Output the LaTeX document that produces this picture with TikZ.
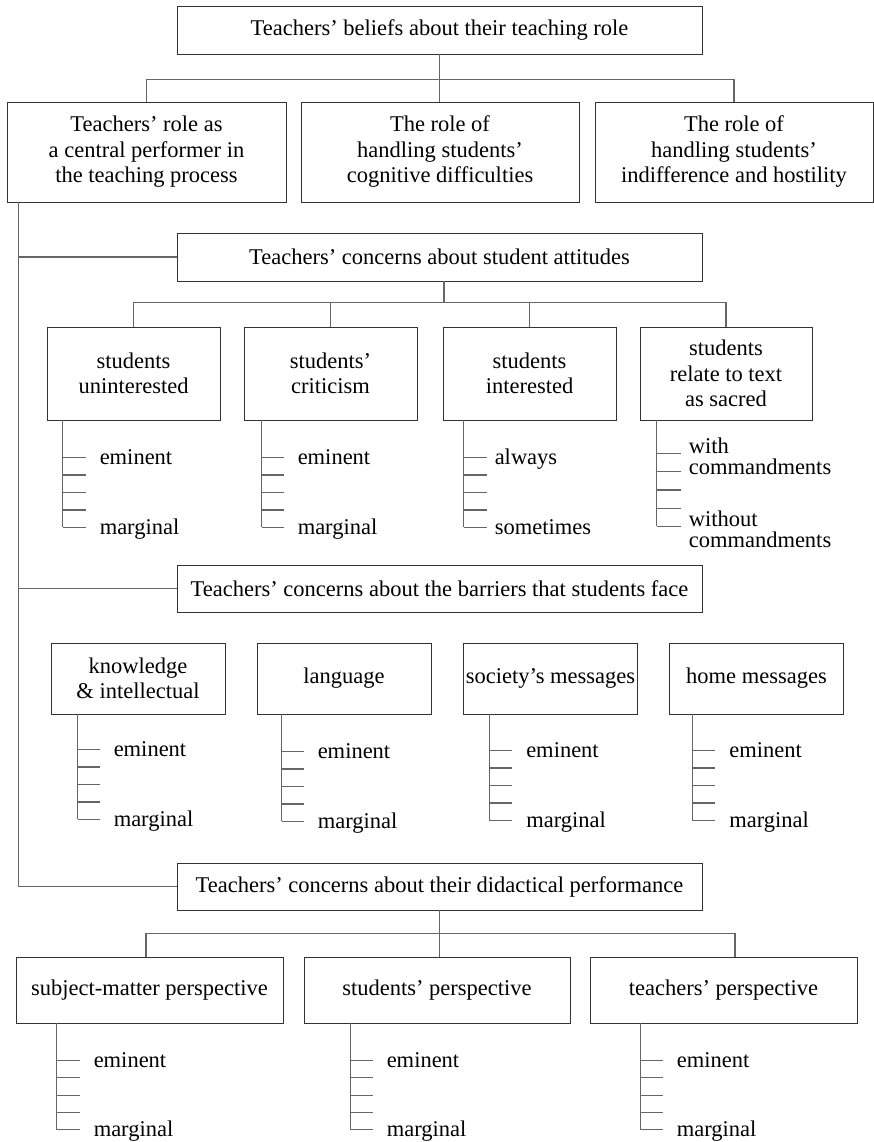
\documentclass[tikz,border=0pt]{standalone}
\usepackage{fontspec}
\setmainfont{Liberation Serif}
\tikzset{
  bx/.style={draw=black!80, line width=0.9pt, inner sep=0pt, align=center, font=\fontsize{22.5}{25.5}\selectfont},
  conn/.style={draw=black!60, line width=1.1pt},
  lab/.style={anchor=base west, inner sep=0pt, font=\fontsize{22.5}{25.5}\selectfont},
}
% #1 box, #2 x offset of vertical, #3 first tick below box, #4 step, #5 tick length, #6 text x from vertical, #7 top label, #8 bottom label, #9 baseline below tick
\newcommand{\ladder}[9]{%
  \draw[conn] ([xshift={#2pt}]#1.south west) -- ++(0,{#3+4*#4});
  \foreach \k in {0,...,4}{
    \draw[conn] ([xshift={#2pt},yshift={-(#3+\k*#4)*1pt}]#1.south west) -- ++(#5,0);
  }
  \node[lab] (#1-top) at ([xshift={(#2+#6)*1pt},yshift={-(#3+#9)*1pt}]#1.south west) {#7};
  \node[lab] (#1-bot) at ([xshift={(#2+#6)*1pt},yshift={-(#3+4*#4+#9)*1pt}]#1.south west) {#8};
}
\newcommand{\twolines}[2]{\fontsize{22.5}{19.5}\selectfont\begin{tabular}[t]{@{}l@{}}#1\\#2\end{tabular}}
\begin{document}
\begin{tikzpicture}[x=1pt,y=-1pt]
\useasboundingbox (0,0) rectangle (874,1142);

% top level
\node[bx, minimum width=525pt, minimum height=48pt] (top) at (439.5,30) {Teachers’ beliefs about their teaching role};
\node[bx, minimum width=279pt, minimum height=100pt] (ra) at (146.5,152) {Teachers’ role as\\a central performer in\\the teaching process};
\node[bx, minimum width=278pt, minimum height=100pt] (rb) at (440,152) {The role of\\handling students’\\cognitive difficulties};
\node[bx, minimum width=278pt, minimum height=100pt] (rc) at (734,152) {The role of\\handling students’\\indifference and hostility};

\draw[conn] (top.south) -- (top.south |- rb.north);
\draw[conn] (ra.north) -- ++(0,-22) -| (rc.north);

% three concern boxes
\node[bx, minimum width=525pt, minimum height=48pt] (att) at (439.5,257) {Teachers’ concerns about student attitudes};
\node[bx, minimum width=525pt, minimum height=47pt] (bar) at (439.5,588.5) {Teachers’ concerns about the barriers that students face};
\node[bx, minimum width=525pt, minimum height=47pt] (did) at (439.5,886.5) {Teachers’ concerns about their didactical performance};

% spine
\coordinate (sp) at ([xshift=12pt]ra.south west);
\draw[conn] (sp) |- (did.west);
\draw[conn] (sp |- att.west) -- (att.west);
\draw[conn] (sp |- bar.west) -- (bar.west);

% attitudes children
\node[bx, minimum width=173pt, minimum height=93pt] (s1) at (133.5,373.5) {students\\uninterested};
\node[bx, minimum width=173pt, minimum height=93pt] (s2) at (330.5,373.5) {students’\\criticism};
\node[bx, minimum width=173pt, minimum height=93pt] (s3) at (529.5,373.5) {students\\interested};
\node[bx, minimum width=172pt, minimum height=93pt] (s4) at (726,373.5) {students\\relate to text\\as sacred};

\draw[conn] ([xshift=4.5pt]att.south) -- ++(0,22);
\draw[conn] (s1.north) -- ++(0,-24) -| (s4.north);
\draw[conn] (s2.north) -- ++(0,-24);
\draw[conn] (s3.north) -- ++(0,-24);

\ladder{s1}{16}{37}{17.5}{23}{37}{eminent}{marginal}{7}
\ladder{s2}{18}{37}{17.5}{22}{36}{eminent}{marginal}{7}
\ladder{s3}{21}{37}{17.5}{23}{31}{always}{sometimes}{7}
\ladder{s4}{17}{33}{18.25}{24}{32}{\twolines{with}{commandments}}{\twolines{without}{commandments}}{0}

% barriers children
\node[bx, minimum width=174pt, minimum height=71pt] (k1) at (138,678.5) {knowledge\\\& intellectual};
\node[bx, minimum width=174pt, minimum height=71pt] (k2) at (344,678.5) {language};
\node[bx, minimum width=174pt, minimum height=71pt] (k3) at (550.5,678.5) {society’s messages};
\node[bx, minimum width=174pt, minimum height=71pt] (k4) at (756.5,678.5) {home messages};

\ladder{k1}{27}{35}{17.5}{22}{36}{eminent}{marginal}{7}
\ladder{k2}{25}{37}{17.5}{22}{36}{eminent}{marginal}{7}
\ladder{k3}{26}{36}{17.5}{23}{37}{eminent}{marginal}{7}
\ladder{k4}{23}{36}{17.5}{23}{37}{eminent}{marginal}{7}

% didactical children
\node[bx, minimum width=267pt, minimum height=66pt] (d1) at (149.5,990) {subject-matter perspective};
\node[bx, minimum width=266pt, minimum height=66pt] (d2) at (437,990) {students’ perspective};
\node[bx, minimum width=267pt, minimum height=66pt] (d3) at (723.5,990) {teachers’ perspective};

\draw[conn] (did.south) -- (did.south |- d2.north);
\draw[conn] ([xshift=-3.5pt]d1.north) -- ++(0,-23) -| ([xshift=11.5pt]d3.north);

\ladder{d1}{41}{37}{17.3}{23}{37}{eminent}{marginal}{7}
\ladder{d2}{47}{37}{17.3}{22}{36}{eminent}{marginal}{7}
\ladder{d3}{51}{37}{17.3}{22}{36}{eminent}{marginal}{7}
\end{tikzpicture}
\end{document}
